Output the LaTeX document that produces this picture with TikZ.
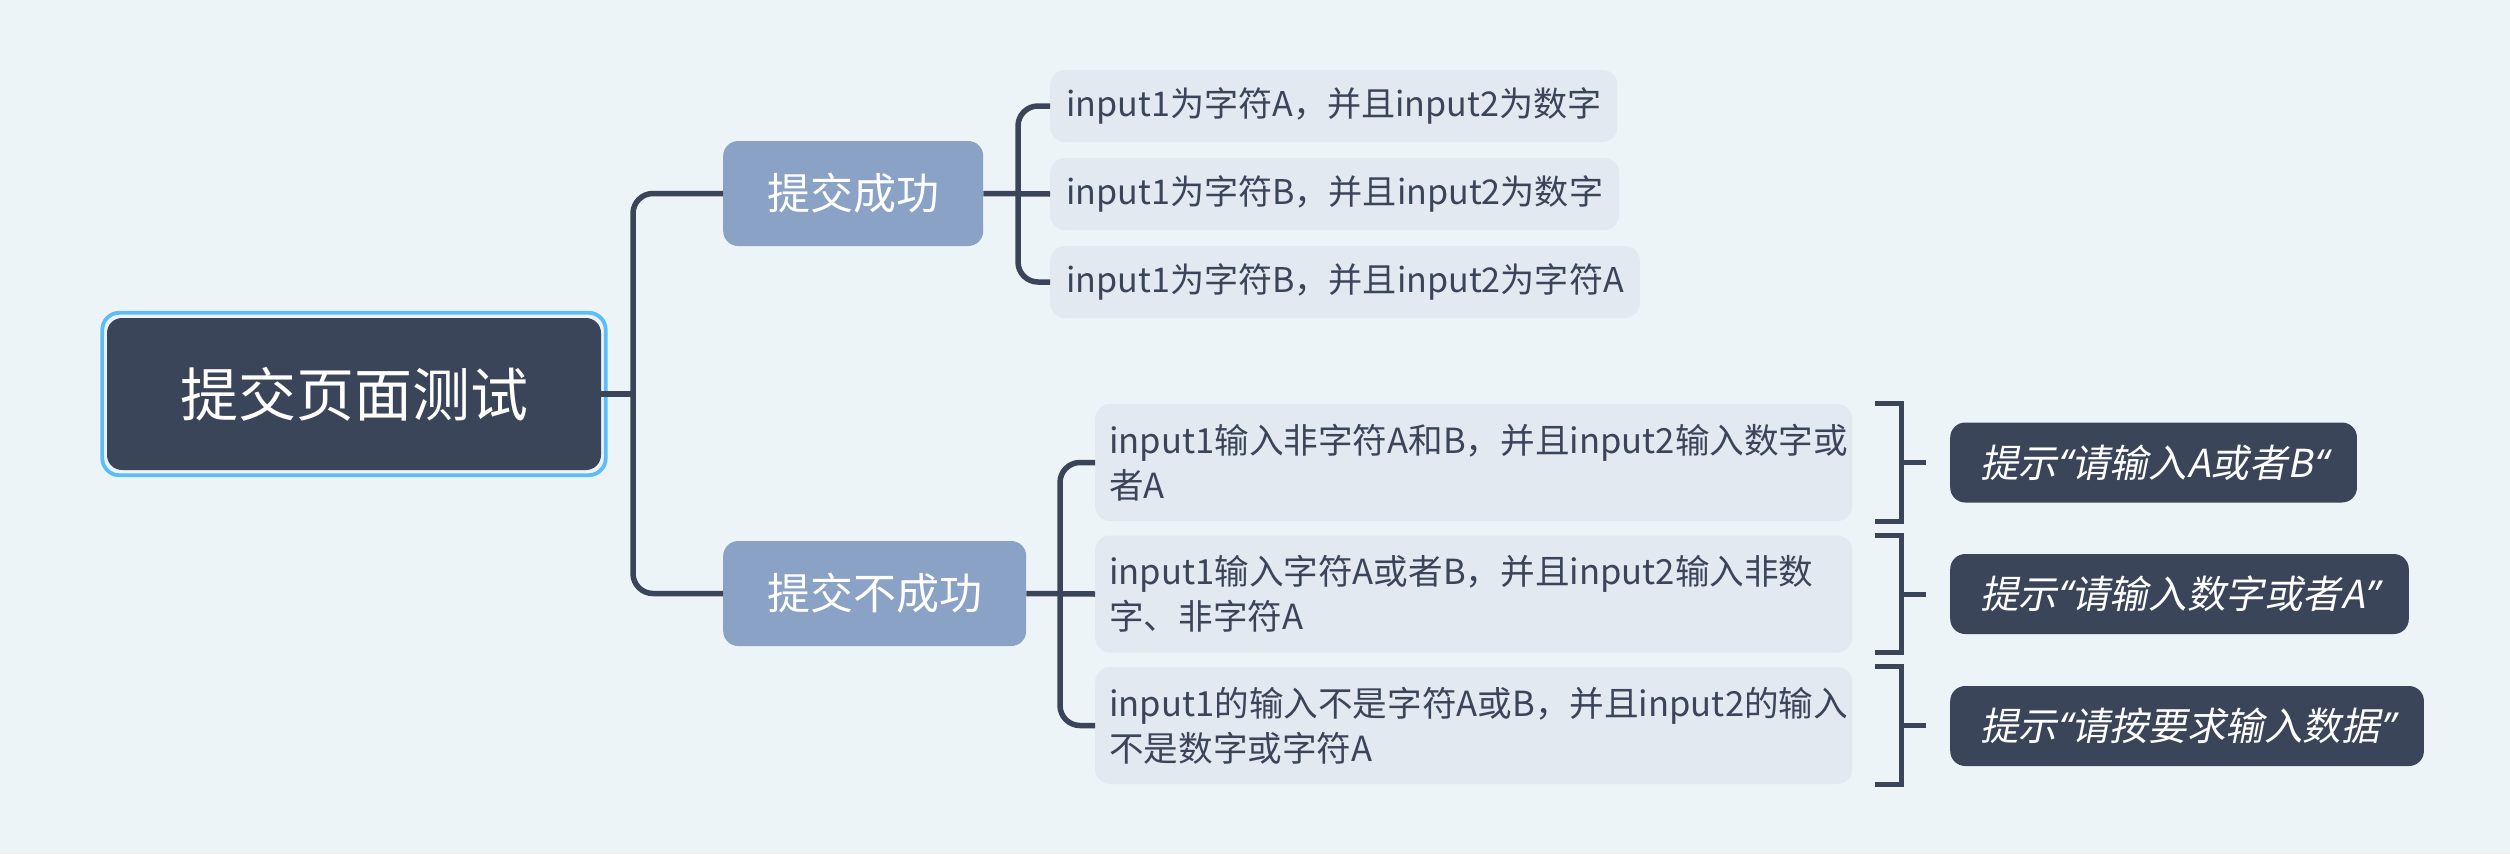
\documentclass[tikz,border=0pt]{standalone}
\usepackage{fontspec}
\setmainfont{Noto Sans CJK SC}
\newfontfamily\slantcjk{Noto Sans CJK SC}[FakeSlant=0.2]
\newfontfamily\slantlat{Noto Sans}[FakeSlant=0.2]
\newcommand{\myLq}{{\slantlat “}}
\newcommand{\myRq}{{\slantlat ”}}
\definecolor{bgc}{HTML}{EDF4F8}
\definecolor{darkc}{HTML}{3A4559}
\definecolor{lvlc}{HTML}{8AA2C6}
\definecolor{childc}{HTML}{E2E9F1}
\definecolor{selc}{HTML}{5CBDF8}
\tikzset{
  rootbox/.style={fill=darkc, text=white, rounded corners=15pt, minimum width=494pt, minimum height=152pt, inner sep=0pt, font=\fontsize{58}{64}\selectfont},
  selframe/.style={draw=selc, line width=3.8pt, rounded corners=17pt},
  lvlbox/.style={fill=lvlc, text=white, rounded corners=15pt, minimum height=105pt, inner xsep=44pt, inner ysep=0pt, anchor=west, font=\fontsize{43}{50}\selectfont},
  childbox/.style={fill=childc, text=darkc, rounded corners=15pt, minimum height=72pt, inner xsep=16pt, inner ysep=0pt, anchor=west, font=\fontsize{34.1}{45}\selectfont},
  twobox/.style={fill=childc, text=darkc, rounded corners=15pt, minimum height=117pt, text width=729pt, align=left, inner xsep=14pt, inner ysep=0pt, anchor=west, font=\fontsize{34.6}{45}\selectfont},
  sumbox/.style={fill=darkc, text=white, rounded corners=15pt, minimum height=80pt, inner xsep=30pt, inner ysep=0pt, anchor=west, font=\fontsize{38.6}{46}\selectfont\slantcjk},
  conn/.style={draw=darkc, line width=5.5pt, rounded corners=20pt},
  brack/.style={draw=darkc, line width=5pt}
}
\begin{document}
\begin{tikzpicture}[x=1pt,y=-1pt]
\fill[bgc] (0,0) rectangle (2510,854);
\useasboundingbox (0,0) rectangle (2510,854);

% nodes
\node[rootbox] (root) at (354,394) {提交页面测试};
\draw[selframe] ([xshift=-4.5pt,yshift=5pt]root.north west) rectangle ([xshift=4.5pt,yshift=-5pt]root.south east);

\node[lvlbox] (la) at (723,193.5) {提交成功};
\node[lvlbox] (lb) at (723,593.5) {提交不成功};

\node[childbox] (c1) at (1050,106) {input1为字符A，并且input2为数字};
\node[childbox] (c2) at (1050,194) {input1为字符B，并且input2为数字};
\node[childbox] (c3) at (1050,282) {input1为字符B，并且input2为字符A};

\node[twobox] (d1) at (1095,462.5) {input1输入非字符A和B，并且input2输入数字或\\者A};
\node[twobox] (d2) at (1095,594) {input1输入字符A或者B，并且input2输入非数\\字、非字符A};
\node[twobox] (d3) at (1095,725.5) {input1的输入不是字符A或B，并且input2的输入\\不是数字或字符A};

\node[sumbox] (s1) at (1950,462.5) {提示\myLq 请输入A或者B\myLq};
\node[sumbox] (s2) at (1950,594) {提示\myLq 请输入数字或者A\myRq};
\node[sumbox] (s3) at (1950,726) {提示\myLq 请按要求输入数据\myRq};

% junction coordinates
\coordinate (jr) at (633,394);
\coordinate (ja) at (1018,194);
\coordinate (jb) at (1060,594);

% connectors
\draw[conn] (root.east) -- (jr);
\draw[conn] (la.west) -| (jr) |- (lb.west);
\draw[conn] (la.east) -- (c2.west);
\draw[conn] (c1.west) -| (ja) |- (c3.west);
\draw[conn] (lb.east) -- (d2.west);
\draw[conn] (d1.west) -| (jb) |- (d3.west);

% summary brackets
\foreach \d in {d1,d2,d3}{
  \draw[brack] ([xshift=23pt]\d.north east) -- ([xshift=49pt]\d.north east) -- ([xshift=49pt]\d.south east) -- ([xshift=23pt]\d.south east);
  \draw[brack] ([xshift=49pt]\d.east) -- ([xshift=74pt]\d.east);
}
\end{tikzpicture}
\end{document}
